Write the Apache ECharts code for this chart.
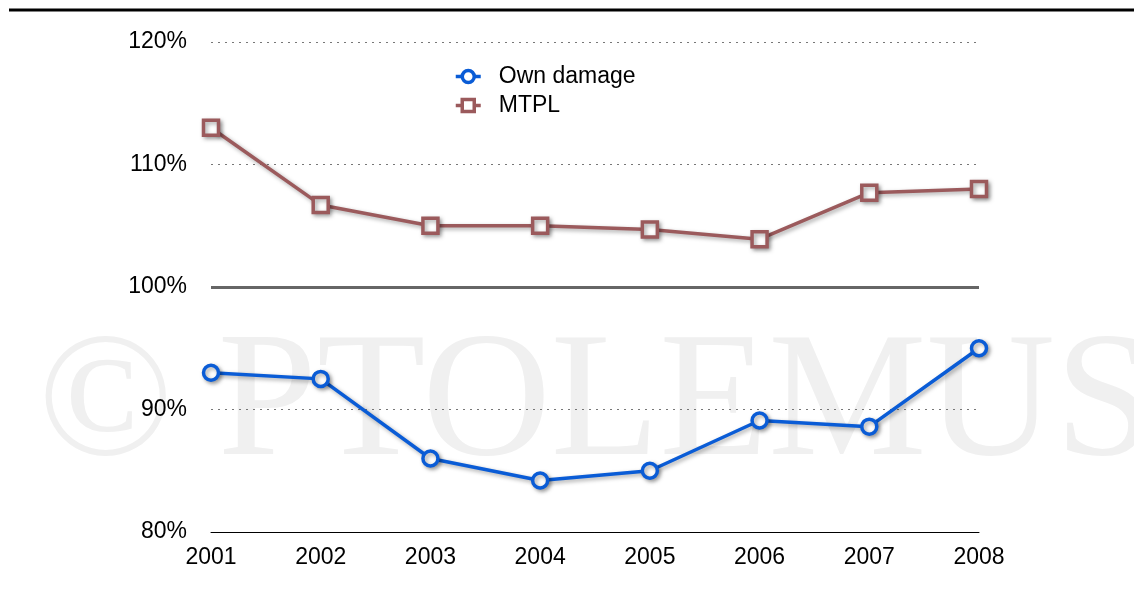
<!DOCTYPE html>
<html lang="en">
<head>
    <meta charset="UTF-8">
    <title>Loss ratio: Own damage vs MTPL</title>
    <script src="https://cdn.jsdelivr.net/npm/echarts@6/dist/echarts.min.js"></script>
    <style type="text/css">
        html, body { margin:0; padding:0; background:#fff; }
        #main{ width:1134px; height:612px; }
    </style>
</head>
<body>
<div id="main"></div>
<script type="application/javascript">
    var years = ['2001','2002','2003','2004','2005','2006','2007','2008'];
    var ownDamage = [93.0, 92.5, 86.0, 84.2, 85.0, 89.1, 88.6, 95.0];
    var mtpl = [113.0, 106.7, 105.0, 105.0, 104.7, 103.9, 107.7, 108.0];
    var yTicks = [80, 90, 100, 110, 120];

    var myChart = echarts.init(document.getElementById('main'));

    var font = 'Liberation Sans, Arial, Helvetica, sans-serif';
    var shadow = { shadowColor:'rgba(0,0,0,0.35)', shadowBlur:4, shadowOffsetX:2, shadowOffsetY:2 };
    var blue = '#0a5cd6', brown = '#9b5a5c';

    myChart.setOption({
        animation:false,
        graphic:[
            {
                type:'text', left:38, top:318, z:-10, silent:true,
                style:{ text:'\u00a9 PTOLEMUS', fill:'#f0f0f0',
                    font:'178px "Liberation Serif", "Times New Roman", serif' }
            },
            {
                type:'line', z:10, silent:true,
                shape:{ x1:9, y1:10, x2:1134, y2:10 },
                style:{ stroke:'#000', lineWidth:3 }
            }
        ],
        legend:{
            orient:'vertical',
            left:449, top:60,
            itemGap:6,
            itemWidth:25, itemHeight:15,
            textStyle:{ fontFamily:font, fontSize:23, color:'#000', padding:[0,0,0,13] },
            data:[
                { name:'Own damage', itemStyle:{ borderWidth:3.5 }, lineStyle:{ width:3.5 } },
                { name:'MTPL', itemStyle:{ borderWidth:3.5 }, lineStyle:{ width:3.5 } }
            ]
        },
        grid:{ left:211, right:155, top:42, bottom:80 },
        xAxis:{
            type:'category',
            data:years,
            boundaryGap:false,
            axisLine:{ lineStyle:{ color:'#000', width:1 } },
            axisTick:{ show:false },
            axisLabel:{ fontFamily:font, fontSize:23, color:'#000', margin:14 }
        },
        yAxis:{
            type:'value',
            min:yTicks[0], max:yTicks[yTicks.length-1], interval:10,
            axisLine:{ show:false },
            axisTick:{ show:false },
            axisLabel:{ fontFamily:font, fontSize:23, color:'#000', margin:24, formatter:'{value}%',
                padding:[4,0,0,0] },
            splitLine:{ lineStyle:{ color:'#777', type:[2,5], width:1 } }
        },
        series:[
            {
                name:'Own damage',
                type:'line',
                data:ownDamage,
                symbol:'circle',
                symbolSize:15,
                z:3,
                lineStyle:Object.assign({ color:blue, width:3.5 }, shadow),
                itemStyle:Object.assign({ color:'#fff', borderColor:blue, borderWidth:3.5 }, shadow),
                markLine:{
                    silent:true,
                    symbol:'none',
                    label:{ show:false },
                    lineStyle:{ color:'#666', width:3, type:'solid' },
                    data:[{ yAxis:100 }]
                }
            },
            {
                name:'MTPL',
                type:'line',
                data:mtpl,
                symbol:'rect',
                symbolSize:15,
                z:3,
                lineStyle:Object.assign({ color:brown, width:3.5 }, shadow),
                itemStyle:Object.assign({ color:'#fff', borderColor:brown, borderWidth:3.5 }, shadow)
            }
        ]
    });
</script>
</body>
</html>
